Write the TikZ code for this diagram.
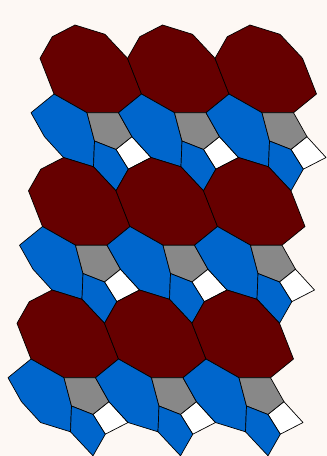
\documentclass[tikz,border=0pt]{standalone}
\usepackage{tikz}

\definecolor{tilered}{RGB}{102,0,0}
\definecolor{tileblue}{RGB}{0,102,204}
\definecolor{tilegray}{RGB}{136,136,136}
\definecolor{paper}{RGB}{253,248,244}

\begin{document}
\begin{tikzpicture}[x=1pt,y=-1pt,
		tile/.style={draw=black, line width=0.7pt, line join=round},
		redtile/.style={tile, fill=tilered},
		bluetile/.style={tile, fill=tileblue},
		graytile/.style={tile, fill=tilegray},
		whitetile/.style={tile, fill=white}]
		\fill[paper] (0,0) rectangle (327,456);
		\useasboundingbox (0,0) rectangle (327,456);
		% one cell: enneagon, two blues, gray pentagon, white quad
		\foreach \j in {0,1,2}{
			\foreach \i in {0,1,2}{
				\begin{scope}[xshift=\i*87.5pt-\j*11.5pt, yshift=-\j*132.5pt]
					\coordinate (A) at (40,58.3);
					\coordinate (B) at (52.3,36.7);
					\coordinate (C) at (75,25);
					\coordinate (D) at (105,34.3);
					\coordinate (E) at (127.5,58.3);
					\coordinate (F) at (141.5,94);
					\coordinate (G) at (118.5,112.7);
					\coordinate (H) at (87,112.7);
					\coordinate (I) at (54,94);
					\coordinate (P) at (94.5,141);
					\coordinate (K) at (132,136.7);
					\coordinate (L) at (116,149.5);
					\coordinate (M) at (151,157.5);
					\coordinate (N) at (128.3,169.2);
					\coordinate (R) at (116,190.8);
					\coordinate (Dv) at (93.5,166.8);
					\coordinate (Cv) at (63.5,157.5);
					\coordinate (X) at (44.5,136.7);
					\coordinate (Y) at (31,112.7);
					\draw[redtile] (A) -- (B) -- (C) -- (D) -- (E) -- (F) -- (G) -- (H) -- (I) -- cycle;
					\draw[bluetile] (I) -- (H) -- (P) -- (Dv) -- (Cv) -- (X) -- (Y) -- cycle;
					\draw[graytile] (H) -- (G) -- (K) -- (L) -- (P) -- cycle;
					\draw[whitetile] (L) -- (K) -- (M) -- (N) -- cycle;
					\draw[bluetile] (P) -- (L) -- (N) -- (R) -- (Dv) -- cycle;
				\end{scope}
			}
		}
	\end{tikzpicture}
\end{document}
